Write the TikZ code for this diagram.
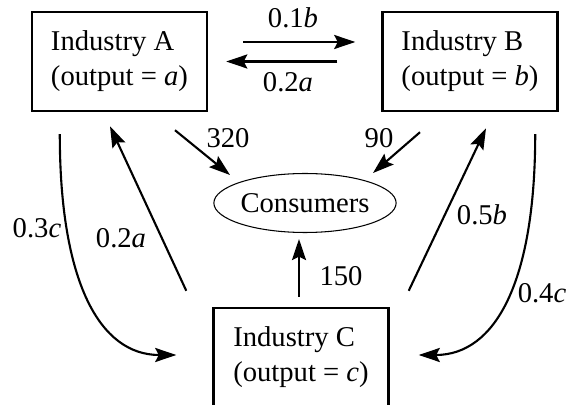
\documentclass[tikz,border=0pt]{standalone}
\usepackage{fontspec}
\setmainfont{Liberation Serif}
\usepackage{tikz}
\usetikzlibrary{arrows.meta, calc, shapes.geometric}

\tikzset{
  industry/.style={draw, line width=1.4pt, minimum width=3.5cm,
                   minimum height=1.98cm, align=left, inner sep=0pt},
  flow/.style={-{Stealth[length=12pt, width=8pt, inset=2pt]}, line width=1.2pt},
  lbl/.style={inner sep=0pt}
}

\begin{document}
\begin{tikzpicture}[x=0.02cm, y=-0.02cm, font=\rmfamily\fontsize{16.3}{19.9}\selectfont]
  \useasboundingbox (0,0) rectangle (568,405);
  % industries
  \node[industry] (A) at (119.5,61.5) {Industry A\\(output = \textit{a})};
  \node[industry] (B) at (470,61.5) {Industry B\\(output = \textit{b})};
  \node[industry] (C) at (301,357.5) {Industry C\\(output = \textit{c})};
  % consumers
  \node[ellipse, draw, line width=0.6pt, minimum width=3.6cm,
        minimum height=1.18cm, inner sep=0pt] (Cons) at (305,203) {Consumers};
  % flows between A and B
  \draw[flow] ($(A.east)+(35,-19.5)$) -- ($(B.west)+(-26,-19.5)$);
  \draw[flow] ($(B.west)+(-44,0)$) -- ($(A.east)+(18,0)$);
  \node[lbl] (lab1) at (293,18) {0.1\textit{b}};
  \node[lbl] (lab2) at (288,82) {0.2\textit{a}};
  % flows to consumers
  \draw[flow] ($(A.south)+(55.5,18)$) -- ($(Cons.center)+(-75,-28)$);
  \draw[flow] ($(B.south)+(-50,20)$) -- ($(Cons.center)+(68,-30)$);
  \draw[flow] ($(C.north)+(-2,-10)$) -- ($(Cons.south)+(-6,6)$);
  \node[lbl] (lab3) at (228,138) {320};
  \node[lbl] (lab4) at (379,138) {90};
  \node[lbl] (lab5) at (341,276) {150};
  % flows from C
  \draw[flow] ($(C.north west)+(-26,-16)$) -- ($(A.south)+(-9.5,14)$);
  \draw[flow] ($(C.north east)+(19,-16)$) -- ($(B.south)+(16,16)$);
  \node[lbl] (lab6) at (121,238) {0.2\textit{a}};
  \node[lbl] (lab7) at (482,215) {0.5\textit{b}};
  % flows into C
  \draw[flow] ($(A.south west)+(29,22)$) .. controls +(0,147) and +(-77,0)
    .. ($(C.west)+(-36,-2.5)$);
  \draw[flow] ($(B.south east)+(-23.5,22)$) .. controls +(0,147) and +(77,0)
    .. ($(C.east)+(29,-2.5)$);
  \node[lbl] (lab8) at (37,228) {0.3\textit{c}};
  \node[lbl] (lab9) at (542,293) {0.4\textit{c}};
\end{tikzpicture}
\end{document}
